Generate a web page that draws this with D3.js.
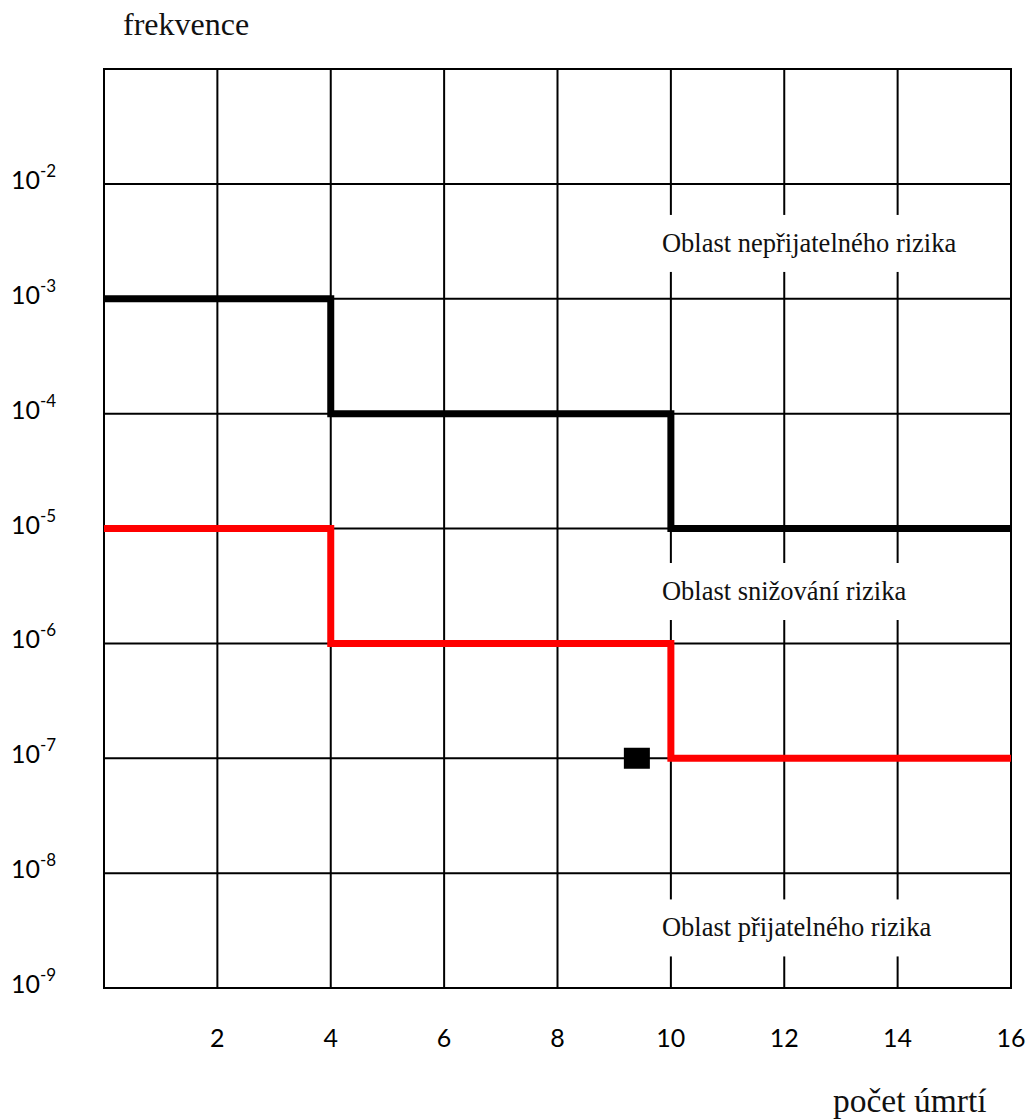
<!DOCTYPE html>
<html>
<head>
<meta charset="utf-8">
<script src="https://cdn.jsdelivr.net/npm/d3@7"></script>
<style>
  html, body { margin: 0; padding: 0; background: #fff; }
  svg { display: block; }
</style>
</head>
<body>
<svg id="chart" width="1030" height="1120"></svg>
<script>
// ---- data ----
const xTicks = [2, 4, 6, 8, 10, 12, 14, 16];
const xGrid = [0, 2, 4, 6, 8, 10, 12, 14, 16];
const yExponents = [-2, -3, -4, -5, -6, -7, -8, -9];
const yGrid = [1e-1, 1e-2, 1e-3, 1e-4, 1e-5, 1e-6, 1e-7, 1e-8, 1e-9];
const blackLimitX = [0, 4, 10, 16];
const blackLimitY = [1e-3, 1e-4, 1e-5, 1e-5];
const redLimitX = [0, 4, 10, 16];
const redLimitY = [1e-5, 1e-6, 1e-7, 1e-7];
const pointX = [9.4];
const pointY = [1e-7];
const regionLabels = ["Oblast nepřijatelného rizika", "Oblast snižování rizika", "Oblast přijatelného rizika"];
const regionY = [3.0e-3, 2.8e-6, 3.3e-9];
const yTitle = "frekvence";
const xTitle = "počet úmrtí";

// ---- layout ----
const svg = d3.select("#chart");
const pLeft = 104, pRight = 1011, pTop = 69, pBottom = 988;
const x = d3.scaleLinear().domain([0, 16]).range([pLeft, pRight]);
const y = d3.scaleLog().domain([1e-9, 1e-1]).range([pBottom, pTop]);

const serif = "'Liberation Serif', 'Times New Roman', serif";
const sans = "Lato, 'Noto Sans', sans-serif";

// grid
const g = svg.append("g");
g.selectAll("line.v").data(xGrid).join("line")
  .attr("x1", d => x(d)).attr("x2", d => x(d))
  .attr("y1", pTop).attr("y2", pBottom)
  .attr("stroke", "#000").attr("stroke-width", 2);
g.selectAll("line.h").data(yGrid).join("line")
  .attr("x1", pLeft - 1).attr("x2", pRight + 1)
  .attr("y1", d => y(d)).attr("y2", d => y(d))
  .attr("stroke", "#000").attr("stroke-width", 2);

// region labels with white backgrounds covering grid
const labG = svg.append("g");
regionLabels.forEach((t, i) => {
  const cy = y(regionY[i]);
  labG.append("rect")
    .attr("x", x(10) - 12).attr("y", cy - 29)
    .attr("width", pRight - 6 - (x(10) - 12)).attr("height", 57)
    .attr("fill", "#fff");
  labG.append("text")
    .attr("x", x(10) - 9).attr("y", cy + 8)
    .attr("font-family", serif).attr("font-size", 26.5)
    .attr("fill", "#111").text(t);
});

// step lines
const line = d3.line().x(d => x(d[0])).y(d => y(d[1])).curve(d3.curveStepAfter);
svg.append("path")
  .datum(blackLimitX.map((v, i) => [v, blackLimitY[i]]))
  .attr("d", line).attr("fill", "none").attr("stroke", "#000")
  .attr("stroke-width", 7).attr("stroke-linejoin", "miter");
svg.append("path")
  .datum(redLimitX.map((v, i) => [v, redLimitY[i]]))
  .attr("d", line).attr("fill", "none").attr("stroke", "#ff0000")
  .attr("stroke-width", 7).attr("stroke-linejoin", "miter");

// point
svg.selectAll("rect.pt").data(pointX).join("rect")
  .attr("x", (d) => x(d) - 13).attr("y", (d, i) => y(pointY[i]) - 10.5)
  .attr("width", 26).attr("height", 21).attr("fill", "#000");

// y tick labels
yExponents.forEach(e => {
  const t = svg.append("text")
    .attr("x", 11).attr("y", y(Math.pow(10, e)) + 5)
    .attr("font-family", sans).attr("font-size", 25).attr("fill", "#000");
  t.append("tspan").text("10");
  t.append("tspan").attr("font-size", 17).attr("dy", -12).text(String(e));
});

// x tick labels
svg.selectAll("text.xt").data(xTicks).join("text")
  .attr("x", d => x(d)).attr("y", 1047)
  .attr("text-anchor", "middle")
  .attr("font-family", sans).attr("font-size", 25).attr("fill", "#000")
  .text(d => d);

// axis titles
svg.append("text").attr("x", 123).attr("y", 35)
  .attr("font-family", serif).attr("font-size", 32).attr("fill", "#111")
  .text(yTitle);
svg.append("text").attr("x", 833).attr("y", 1112)
  .attr("font-family", serif).attr("font-size", 33.5).attr("fill", "#111")
  .text(xTitle);
</script>
</body>
</html>
